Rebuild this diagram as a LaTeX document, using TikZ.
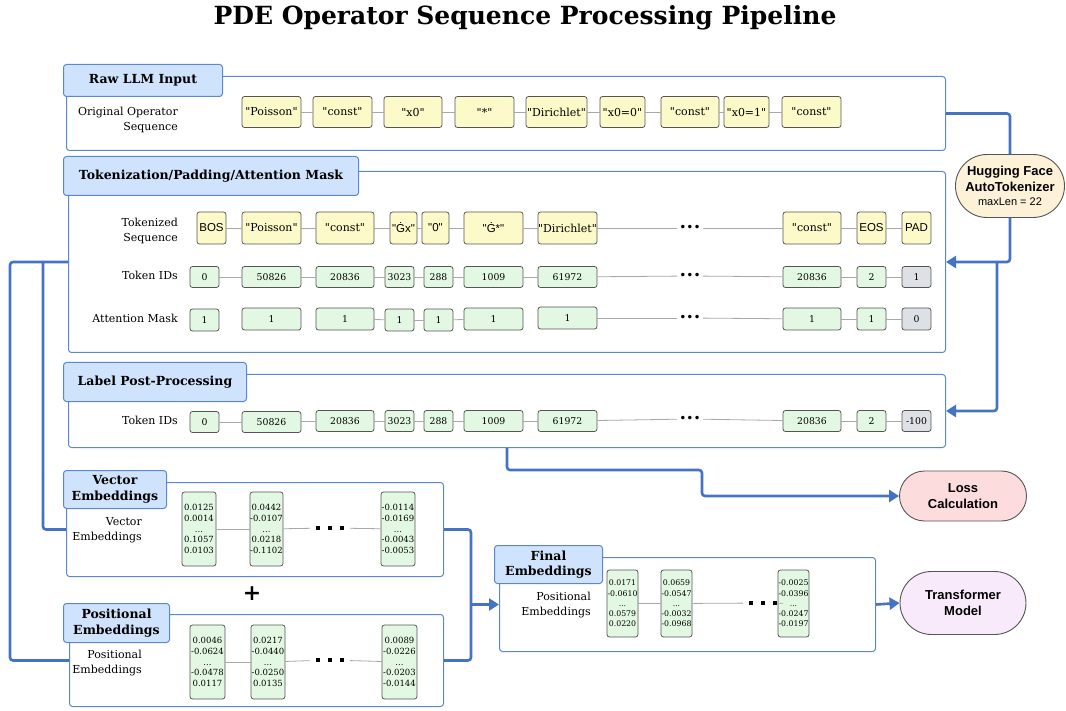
\documentclass[tikz,border=0pt]{standalone}
\usepackage{fontspec}
\setmainfont{DejaVu Serif}[Ligatures=TeXOff]
\newfontfamily\hsans{Liberation Sans}
\newfontfamily\dsans{DejaVu Sans}
\usetikzlibrary{arrows.meta,shapes.misc,calc}
\definecolor{cblue}{HTML}{5B87D0}
\definecolor{flowblue}{HTML}{4472C4}
\definecolor{tabfill}{HTML}{CFE3FC}
\definecolor{yfill}{HTML}{FCFAC8}
\definecolor{gfill}{HTML}{E3F8E3}
\definecolor{pfill}{HTML}{DDE0E5}
\definecolor{bord}{HTML}{555555}
\definecolor{hffill}{HTML}{FDF1D8}
\definecolor{lossfill}{HTML}{FDDCDD}
\definecolor{tffill}{HTML}{F8EAFB}
\definecolor{linkgray}{HTML}{A8A8A8}
\newcommand\bx[7]{\node[#1, minimum width={(#4-#3)*1pt}, minimum height={#6*1pt}] (#2) at ({(#3+#4)/2},#5) {#7};}
\newcommand\cont[5]{\node[container, anchor=north west, minimum width={(#4-#2)*1pt}, minimum height={(#5-#3)*1pt}] (#1) at (#2,#3) {};}
\newcommand\tabb[6]{\node[tabbox, anchor=north west, minimum width={(#4-#2)*1pt}, minimum height={(#5-#3)*1pt}] (#1) at (#2,#3) {#6};}
\newcommand\vcol[5]{#1\\#2\\...\\#4\\#5}
\newcommand\sqdots{\rule{4pt}{4pt}\hspace{8pt}\rule{4pt}{4pt}\hspace{8pt}\rule{4pt}{4pt}}
\begin{document}
\begin{tikzpicture}[x=1pt,y=-1pt,
  container/.style={draw=cblue, line width=1pt, rounded corners=3pt, fill=white, inner sep=0pt},
  tabbox/.style={draw=cblue, fill=tabfill, line width=1pt, rounded corners=3pt, inner sep=0pt, align=center, font=\bfseries\fontsize{12.5}{15.5}\selectfont},
  base/.style={draw=bord, line width=0.8pt, rounded corners=2.5pt, inner sep=0pt},
  ybox/.style={base, fill=yfill, font=\fontsize{11}{12}\selectfont},
  ysbox/.style={base, fill=yfill, font=\hsans\fontsize{11.5}{12}\selectfont},
  gbox/.style={base, fill=gfill, font=\fontsize{9.3}{10}\selectfont},
  pbox/.style={base, fill=pfill, font=\fontsize{9.3}{10}\selectfont},
  ebox/.style={base, fill=gfill, align=center, font=\fontsize{8.5}{10.8}\selectfont},
  fbox/.style={base, fill=gfill, align=center, font=\fontsize{7.8}{10.2}\selectfont},
  lbl/.style={anchor=east, align=right, inner sep=0pt, font=\fontsize{11}{14.5}\selectfont},
  link/.style={draw=linkgray, line width=0.8pt},
  tdots/.style={inner sep=2pt, font=\dsans\fontsize{12}{12}\selectfont},
  sdots/.style={inner sep=6pt},
  flow/.style={draw=flowblue, line width=2.6pt, rounded corners=3pt},
  arr/.style={-{Triangle[length=10pt,width=12pt]}},
  term/.style={rounded rectangle, draw=bord, line width=0.9pt, align=center, inner sep=0pt, font=\hsans\bfseries\fontsize{13}{15.5}\selectfont}
]
\useasboundingbox (0,0) rectangle (1066,711);
\node[font=\bfseries\fontsize{25}{29}\selectfont] (title) at (525,18) {PDE Operator Sequence Processing Pipeline};

% containers
\cont{raw}{66}{76}{945}{150}
\cont{tok}{68}{171}{945}{352}
\cont{lab}{68}{374}{945}{447}
\cont{vec}{66}{482}{443}{576}
\cont{pos}{69}{614}{443}{706}
\cont{fin}{499}{557}{875}{651}

% terminals
\node[term, fill=hffill, minimum width=109pt, minimum height=63pt] (hf) at (1010,186) {Hugging Face\\AutoTokenizer\\[-1pt]{\mdseries\fontsize{11}{12}\selectfont maxLen = 22}};
\node[term, fill=lossfill, minimum width=127pt, minimum height=50pt] (loss) at (963,496) {Loss\\Calculation};
\node[term, fill=tffill, minimum width=126pt, minimum height=63pt] (tf) at (963,603) {Transformer\\Model};

% flows
\draw[flow] (raw.east) -| (hf.north);
\draw[flow,arr] (hf.south) |- (tok.east);
\coordinate (tsplit) at (997,0);
\draw[flow,arr] (tsplit |- tok.east) |- (lab.east);
\coordinate (lsx) at (507,470);
\coordinate (lmx) at (702,0);
\draw[flow,arr] (lab.south -| lsx) -- (lsx) -| (lmx |- loss.west) -- (loss.west);
\coordinate (lx1) at (10,0);
\coordinate (lx2) at (43,0);
\draw[flow] (tok.west) -| (lx1 |- pos.west) -- (pos.west);
\draw[flow] (lx2 |- tok.west) |- (vec.west);
\coordinate (rx) at (471,0);
\draw[flow] (vec.east) -| (rx |- pos.east) -- (pos.east);
\draw[flow,arr] (rx |- fin.west) -- (fin.west);
\draw[flow,arr] (fin.east) -- (tf.west);

% tabs
\tabb{rawtab}{63}{64}{222}{96}{Raw LLM Input}
\tabb{toktab}{63}{156}{358}{195}{Tokenization/Padding/Attention Mask}
\tabb{labtab}{63}{362}{246}{401}{Label Post-Processing}
\tabb{vectab}{63}{470}{166}{508}{Vector\\Embeddings}
\tabb{postab}{63}{603}{169}{642}{Positional\\Embeddings}
\tabb{fintab}{494}{545}{602}{583}{Final\\Embeddings}

% labels
\node[lbl] (lraw) at (178,120) {Original Operator\\Sequence};
\node[lbl] (ltok) at (178,231) {Tokenized\\Sequence};
\node[lbl] (lids) at (178,275) {Token IDs};
\node[lbl] (lmask) at (178,318) {Attention Mask};
\node[lbl] (llab) at (178,420) {Token IDs};
\node[lbl] (lvec) at (142,530) {Vector\\Embeddings};
\node[lbl] (lpos) at (142,663) {Positional\\Embeddings};
\node[lbl] (lfin) at (591,605) {Positional\\Embeddings};

% raw row
\bx{ybox}{r1}{242}{301}{112}{31}{"Poisson"}
\bx{ybox}{r2}{313}{372}{112}{31}{"const"}
\bx{ybox}{r3}{384}{442}{112}{31}{"x0"}
\bx{ybox}{r4}{455}{514}{112}{31}{"*"}
\bx{ybox}{r5}{526}{587}{112}{31}{"Dirichlet"}
\bx{ybox}{r6}{600}{645}{112}{31}{"x0=0"}
\bx{ybox}{r7}{661}{719}{112}{31}{"const"}
\bx{ybox}{r8}{724}{769}{112}{31}{"x0=1"}
\bx{ybox}{r9}{782}{841}{112}{31}{"const"}
\foreach \a/\b in {r1/r2,r2/r3,r3/r4,r4/r5,r5/r6,r6/r7,r7/r8,r8/r9} \draw[link] (\a) -- (\b);

% tokenized row
\bx{ysbox}{t0}{197}{226}{228}{32}{BOS}
\bx{ybox}{t1}{242}{301}{228}{32}{"Poisson"}
\bx{ybox}{t2}{316}{374}{228}{32}{"const"}
\bx{ysbox}{t3}{390}{417}{228}{32}{"Ġx"}
\bx{ysbox}{t4}{422}{449}{228}{32}{"0"}
\bx{ysbox}{t5}{464}{523}{228}{32}{"Ġ*"}
\bx{ybox}{t6}{538}{597}{228}{32}{"Dirichlet"}
\node[tdots] (tdt) at (690,228) {•••};
\bx{ybox}{t7}{783}{841}{228}{32}{"const"}
\bx{ysbox}{t8}{857}{886}{228}{32}{EOS}
\bx{ysbox}{t9}{902}{931}{228}{32}{PAD}
\foreach \a/\b in {t0/t1,t1/t2,t2/t3,t3/t4,t4/t5,t5/t6,t6/tdt,tdt/t7,t7/t8,t8/t9} \draw[link] (\a) -- (\b);

% token ids row
\bx{gbox}{d0}{190}{219}{277}{21}{0}
\bx{gbox}{d1}{242}{301}{277}{21}{50826}
\bx{gbox}{d2}{316}{374}{277}{21}{20836}
\bx{gbox}{d3}{385}{414}{277}{21}{3023}
\bx{gbox}{d4}{424}{453}{277}{21}{288}
\bx{gbox}{d5}{464}{523}{277}{21}{1009}
\bx{gbox}{d6}{538}{597}{277}{21}{61972}
\node[tdots] (ddt) at (690,276) {•••};
\bx{gbox}{d7}{783}{841}{277}{21}{20836}
\bx{gbox}{d8}{857}{886}{277}{21}{2}
\bx{pbox}{d9}{902}{931}{277}{21}{1}
\foreach \a/\b in {d0/d1,d1/d2,d2/d3,d3/d4,d4/d5,d5/d6,d6/ddt,ddt/d7,d7/d8,d8/d9} \draw[link] (\a) -- (\b);

% attention mask row
\bx{gbox}{m0}{190}{219}{320}{22}{1}
\bx{gbox}{m1}{242}{301}{319}{22}{1}
\bx{gbox}{m2}{316}{374}{319}{22}{1}
\bx{gbox}{m3}{385}{414}{320}{22}{1}
\bx{gbox}{m4}{424}{453}{320}{22}{1}
\bx{gbox}{m5}{464}{523}{319}{22}{1}
\bx{gbox}{m6}{538}{597}{318}{22}{1}
\node[tdots] (mdt) at (690,318) {•••};
\bx{gbox}{m7}{783}{841}{319}{22}{1}
\bx{gbox}{m8}{857}{886}{319}{22}{1}
\bx{pbox}{m9}{902}{931}{319}{22}{0}
\foreach \a/\b in {m2/m3,m3/m4,m4/m5,m6/mdt,mdt/m7,m7/m8,m8/m9} \draw[link] (\a) -- (\b);

% label row
\bx{gbox}{l0}{190}{219}{422}{21}{0}
\bx{gbox}{l1}{242}{301}{422}{21}{50826}
\bx{gbox}{l2}{316}{374}{421}{21}{20836}
\bx{gbox}{l3}{385}{414}{421}{21}{3023}
\bx{gbox}{l4}{424}{453}{421}{21}{288}
\bx{gbox}{l5}{464}{523}{421}{21}{1009}
\bx{gbox}{l6}{538}{597}{421}{21}{61972}
\node[tdots] (ldt) at (690,419) {•••};
\bx{gbox}{l7}{783}{841}{421}{21}{20836}
\bx{gbox}{l8}{857}{886}{421}{21}{2}
\bx{pbox}{l9}{902}{931}{421}{21}{-100}
\foreach \a/\b in {l0/l1,l1/l2,l2/l3,l3/l4,l4/l5,l5/l6,l6/ldt,ldt/l7,l7/l8,l8/l9} \draw[link] (\a) -- (\b);

% vector embeddings
\bx{ebox}{v1}{182}{216}{529}{74}{\vcol{0.0125}{0.0014}{}{0.1057}{0.0103}}
\bx{ebox}{v2}{250}{283}{529}{74}{\vcol{0.0442}{-0.0107}{}{0.0218}{-0.1102}}
\node[sdots] (vdt) at (330,528) {\sqdots};
\bx{ebox}{v3}{381}{415}{529}{74}{\vcol{-0.0114}{-0.0169}{}{-0.0043}{-0.0053}}
\foreach \a/\b in {v1/v2,v2/vdt,vdt/v3} \draw[link] (\a) -- (\b);

\node[font=\bfseries\fontsize{22}{22}\selectfont] (plus) at (252,594) {+};

% positional embeddings
\bx{ebox}{p1}{190}{225}{662}{74}{\vcol{0.0046}{-0.0624}{}{-0.0478}{0.0117}}
\bx{ebox}{p2}{251}{285}{662}{74}{\vcol{0.0217}{-0.0440}{}{-0.0250}{0.0135}}
\node[sdots] (pdt) at (330,660) {\sqdots};
\bx{ebox}{p3}{382}{417}{662}{74}{\vcol{0.0089}{-0.0226}{}{-0.0203}{-0.0144}}
\foreach \a/\b in {p1/p2,p2/pdt,pdt/p3} \draw[link] (\a) -- (\b);

% final embeddings
\bx{fbox}{f1}{607}{638}{603.5}{67}{\vcol{0.0171}{-0.0610}{}{0.0579}{0.0220}}
\bx{fbox}{f2}{661}{692}{603.5}{67}{\vcol{0.0659}{-0.0547}{}{-0.0032}{-0.0968}}
\node[sdots] (fdt) at (763,603) {\sqdots};
\bx{fbox}{f3}{778}{809}{603.5}{67}{\vcol{-0.0025}{-0.0396}{}{-0.0247}{-0.0197}}
\foreach \a/\b in {f1/f2,f2/fdt,fdt/f3} \draw[link] (\a) -- (\b);
\end{tikzpicture}
\end{document}
